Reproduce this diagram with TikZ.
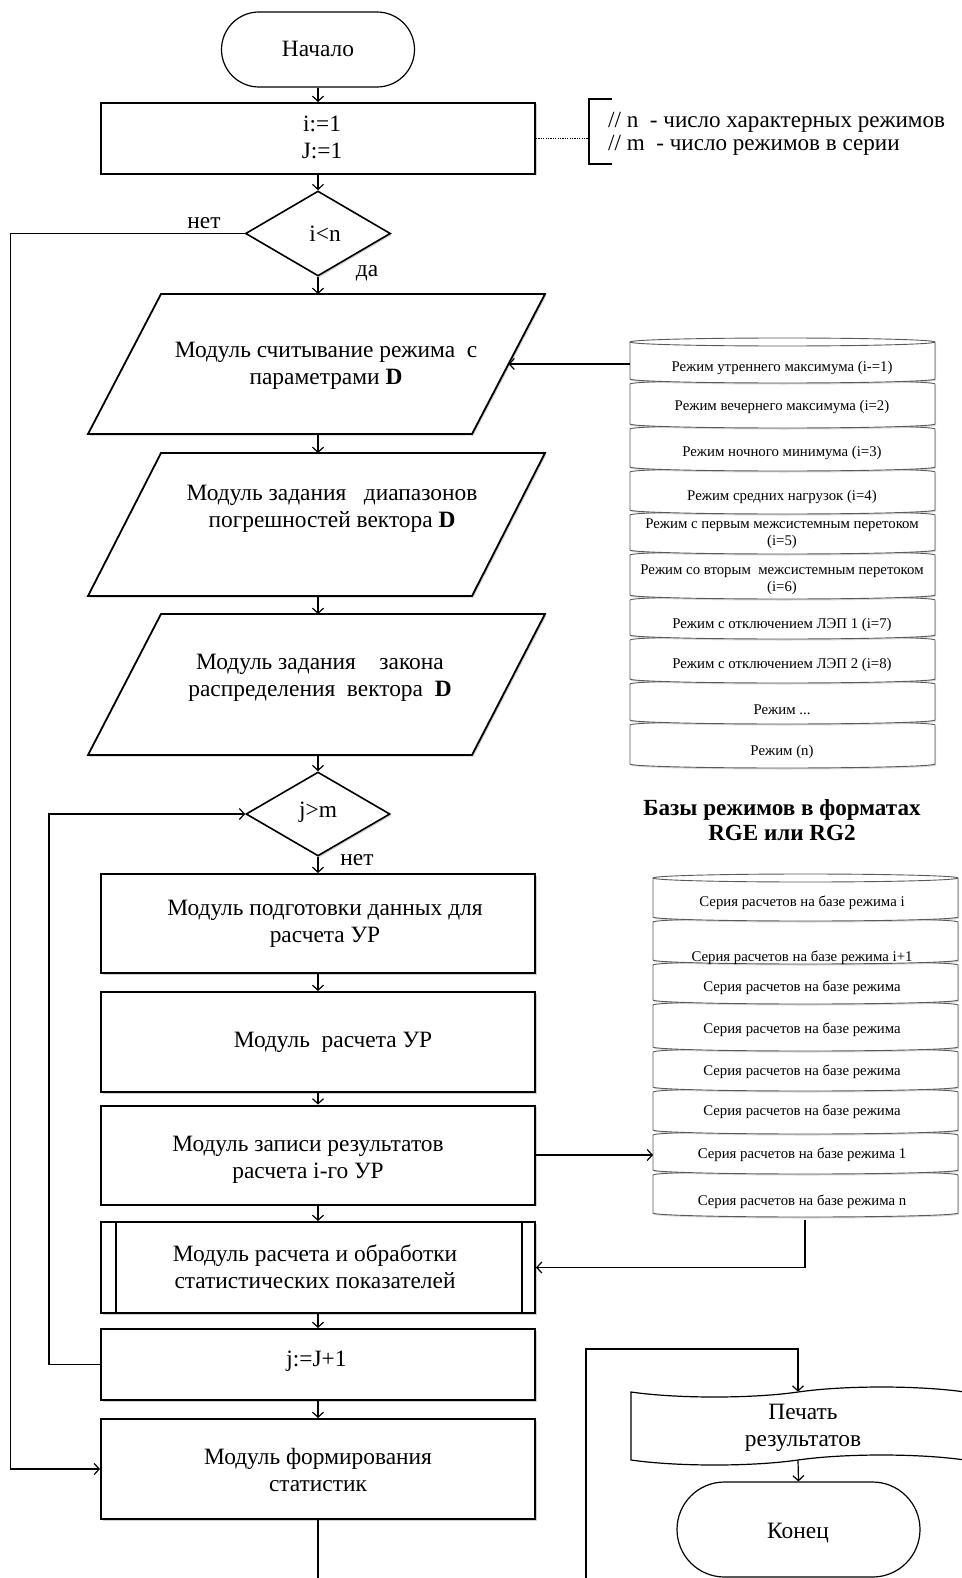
\documentclass[tikz,border=0pt]{standalone}
\usepackage{fontspec}
\setmainfont{Liberation Serif}
\usetikzlibrary{shapes.geometric,shapes.misc,shapes.symbols,arrows.meta,shadows,calc}
\newcommand\mainfs{\fontsize{23.4}{27}\selectfont}
\newcommand\cylfs{\fontsize{14.8}{17}\selectfont}
\newcommand\capfs{\fontsize{23.1}{25}\selectfont}
\newcommand\notefs{\fontsize{23.1}{23}\selectfont}
\newcommand\cylseg[4]{%
  \filldraw[cylline] (#1,#3) -- (#1,#4) arc[start angle=180,end angle=360,x radius=152.5pt,y radius=4pt] -- (#2,#3) arc[start angle=0,end angle=180,x radius=152.5pt,y radius=4pt] -- cycle;}
\newcommand\paragram[3]{% name, top, bottom
  \filldraw[paraline] (161,#2) -- (545,#2) -- (472,#3) -- (88,#3) -- cycle;
  \coordinate (#1n) at (318,#2);
  \coordinate (#1s) at (318,#3);
  \coordinate (#1e) at ($(545,#2)!0.5!(472,#3)$);}
\tikzset{
  shd/.style={drop shadow={shadow xshift=1.5pt,shadow yshift=-1.5pt,opacity=.3,fill=black!60}},
  procbox/.style={shape=rectangle,draw,line width=2pt,minimum width=434pt,inner sep=0pt,fill=white,shd},
  paraline/.style={draw,line width=1.8pt,fill=white,shd},
  decide/.style={shape=diamond,draw,line width=1.6pt,minimum width=145pt,minimum height=85pt,inner sep=0pt,fill=white,shd},
  term/.style={shape=rounded rectangle,draw,line width=1.2pt,inner sep=0pt,fill=white},
  txt/.style={font=\mainfs,align=center,inner sep=0pt},
  conn/.style={line width=1.2pt},
  arr/.style={conn,-{Straight Barb[length=5pt,width=11pt]}},
  cyltxt/.style={font=\cylfs,align=center,inner sep=0pt},
  cylline/.style={draw=black!65,line width=0.9pt,fill=white,drop shadow={shadow xshift=1pt,shadow yshift=-1.5pt,opacity=.25,fill=black!60}},
}
\begin{document}
\begin{tikzpicture}[x=1pt,y=-1pt]
\useasboundingbox (0,0) rectangle (961,1578);

% ---------- main column shapes ----------
\node[term,minimum width=193pt,minimum height=75pt] (start) at (318,49.5) {};
\node[procbox,minimum height=71pt] (b0) at (318,138.5) {};
\node[decide] (d1) at (318,233.5) {};
\paragram{p1}{294}{434}
\paragram{p2}{453}{596}
\paragram{p3}{614}{755}
\node[decide,minimum width=144pt,minimum height=84pt] (d2) at (318,814) {};
\node[procbox,minimum height=99pt] (b1) at (318,923.5) {};
\node[procbox,minimum height=100pt] (b2) at (318,1042) {};
\node[procbox,minimum height=99pt] (b3) at (318,1155) {};
\node[procbox,minimum height=91pt] (b4) at (318,1267.5) {};
\draw[line width=1.5pt] ([xshift=16pt]b4.north west) -- ([xshift=16pt]b4.south west);
\draw[line width=1.5pt] ([xshift=-14pt]b4.north east) -- ([xshift=-14pt]b4.south east);
\node[procbox,minimum height=71pt] (b5) at (318,1364.5) {};
\node[procbox,minimum height=100pt] (b6) at (318,1469) {};

% ---------- texts ----------
\node[txt] (tstart) at (318,49) {Начало};
\node[txt] (tb0) at (322,137.5) {i:=1\\J:=1};
\node[txt] (td1) at (325,234) {i<n};
\node[txt] (tp1) at (326,365.5) {Модуль считывание режима\ \ с\\параметрами \textbf{D}};
\node[txt] (tp2) at (332,509) {Модуль задания\ \ \ диапазонов\\погрешностей вектора \textbf{D}};
\node[txt] (tp3) at (320,678) {Модуль задания\ \ \ \ закона\\распределения\ \ вектора\ \ \textbf{D}};
\node[txt] (td2) at (318,812) {j>m};
\node[txt] (tb1) at (325,924) {Модуль подготовки данных для\\расчета УР};
\node[txt] (tb2) at (333,1042) {Модуль\ \ расчета УР};
\node[txt] (tb3) at (308,1159.5) {Модуль записи результатов\\расчета i-го УР};
\node[txt] (tb4) at (315,1266.5) {Модуль расчета и обработки\\статистических показателей};
\node[txt] (tb5) at (316.5,1361) {j:=J+1};
\node[txt] (tb6) at (318,1470) {Модуль формирования\\статистик};

% labels
\node[txt] (lno1) at (204,223) {нет};
\node[txt] (lyes1) at (367,273) {да};
\node[txt] (lno2) at (357,860) {нет};

% ---------- annotation ----------
\coordinate (brk) at (589,138.5);
\draw[line width=1.2pt] (612,99) -- (589,99) -- (589,164) -- (612,164);
\draw[line width=1.2pt,dash pattern=on 1.2pt off 1.2pt] (b0.east) -- (brk);
\node[font=\notefs,align=left,inner sep=0pt,anchor=west] (note) at (608,134) {// n\ \ - число характерных режимов\\// m\ \ - число режимов в серии};

% ---------- cylinder 1 ----------
\foreach \t/\b in {725/764,684/720,640/679,600/635,555/595,515/550,472/510,429/467,384/424,342/379}
  {\cylseg{630}{935}{\t}{\b}}
\draw[draw=black!65,line width=0.9pt] (630,342) arc[start angle=180,end angle=360,x radius=152.5pt,y radius=4pt];
\node[cyltxt] (r1) at (782,368) {Режим утреннего максимума (i-=1)};
\node[cyltxt] (r2) at (782,407) {Режим вечернего максимума (i=2)};
\node[cyltxt] (r3) at (782,453) {Режим ночного минимума (i=3)};
\node[cyltxt] (r4) at (782,497) {Режим средних нагрузок (i=4)};
\node[cyltxt] (r5) at (782,534) {Режим с первым межсистемным перетоком\\(i=5)};
\node[cyltxt] (r6) at (782,580) {Режим со вторым\ \ межсистемным перетоком\\(i=6)};
\node[cyltxt] (r7) at (782,625) {Режим с отключением ЛЭП 1 (i=7)};
\node[cyltxt] (r8) at (782,665) {Режим с отключением ЛЭП 2 (i=8)};
\node[cyltxt] (r9) at (782,710) {Режим ...};
\node[cyltxt] (r10) at (782,752) {Режим (n)};
\coordinate (c1out) at (630,364);
\node[font=\capfs\bfseries,align=center,inner sep=0pt] (cap) at (782,820.5) {Базы режимов в форматах\\RGE или RG2};

% ---------- cylinder 2 ----------
\foreach \t/\b in {1175/1213,1135/1170,1092/1130,1052/1087,1005/1047,965/1000,922/960,878/917}
  {\cylseg{653}{958}{\t}{\b}}
\draw[draw=black!65,line width=0.9pt] (653,878) arc[start angle=180,end angle=360,x radius=152.5pt,y radius=4pt];
\node[cyltxt] (s1) at (802,903) {Серия расчетов на базе режима i};
\node[cyltxt] (s2) at (802,958) {Серия расчетов на базе режима i+1};
\node[cyltxt] (s3) at (802,988) {Серия расчетов на базе режима};
\node[cyltxt] (s4) at (802,1030) {Серия расчетов на базе режима};
\node[cyltxt] (s5) at (802,1072) {Серия расчетов на базе режима};
\node[cyltxt] (s6) at (802,1112) {Серия расчетов на базе режима};
\node[cyltxt] (s7) at (802,1155) {Серия расчетов на базе режима 1};
\node[cyltxt] (s8) at (802,1202) {Серия расчетов на базе режима n};
\coordinate (c2in) at (653,1155);
\coordinate (c2out) at (805,1220);

% ---------- output and end ----------
\node[shape=tape,draw,line width=1.2pt,minimum width=334pt,minimum height=78pt,tape bend height=10pt,inner sep=0pt,fill=white] (tape) at (798,1426) {};
\node[txt] (ttape) at (803,1428) {Печать\\результатов};
\node[term,minimum width=243pt,minimum height=95pt] (end) at (798.5,1529.5) {};
\node[txt] (tend) at (798,1533) {Конец};
\coordinate (bot1) at (318,1578);
\coordinate (bot2) at (586,1578);

% ---------- connectors ----------
\draw[arr] (start) -- (b0);
\draw[arr] (b0) -- (d1);
\draw[arr] (d1) -- (p1n);
\draw[arr] (p1s) -- (p2n);
\draw[arr] (p2s) -- (p3n);
\draw[arr] (p3s) -- (d2);
\draw[arr] (d2) -- (b1);
\draw[arr] (b1) -- (b2);
\draw[arr] (b2) -- (b3);
\draw[arr] (b3) -- (b4);
\draw[arr] (b4) -- (b5);
\draw[arr] (b5) -- (b6);
\draw[conn] (b6) -- (bot1);
\draw[arr] (d1.west) -- ++(-234.5,0) |- (b6.west);
\draw[arr] (b5.west) -- ++(-51,0) |- (d2.west);
\draw[arr] (c1out) -- (c1out -| p1e);
\draw[arr] (b3.east) -- (c2in);
\draw[arr] (c2out) |- (b4.east);
\draw[arr] (bot2) -- ++(0,-229) -| (tape.north);
\draw[arr] (tape.south) -- (end.north);
\end{tikzpicture}
\end{document}
